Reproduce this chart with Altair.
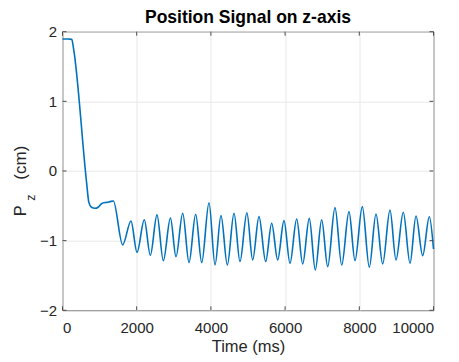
import altair as alt
import pandas as pd

# Position signal (time in ms, position in cm)
time_ms = [0, 150, 250, 300, 650, 710, 780, 876, 960, 1050, 1110, 1200, 1280, 1370,
           1622, 1846, 2008, 2205, 2367, 2547, 2717, 2910, 3059, 3240, 3410, 3590,
           3752, 3949, 4111, 4272, 4443, 4623, 4784, 4970, 5126, 5296, 5477, 5638,
           5800, 5970, 6132, 6312, 6474, 6652, 6814, 6986, 7148, 7345, 7526, 7722,
           7884, 8081, 8270, 8450, 8630, 8827, 8989, 9186, 9367, 9528, 9709, 9887,
           10000]
pz_cm = [1.895, 1.895, 1.89, 1.75, -0.17, -0.45, -0.52, -0.535, -0.52, -0.47, -0.455,
         -0.45, -0.44, -0.43,
         -1.06, -0.717, -1.167, -0.70, -1.21, -0.63, -1.287, -0.675, -1.23, -0.607,
         -1.315, -0.62, -1.315, -0.455, -1.349, -0.64, -1.35, -0.607, -1.30, -0.60,
         -1.277, -0.655, -1.30, -0.75, -1.277, -0.713, -1.325, -0.689, -1.334, -0.68,
         -1.42, -0.70, -1.373, -0.526, -1.349, -0.584, -1.287, -0.512, -1.38, -0.617,
         -1.334, -0.56, -1.277, -0.593, -1.325, -0.646, -1.215, -0.656, -1.12]

x_ticks = [0, 2000, 4000, 6000, 8000, 10000]
y_ticks = [-2, -1, 0, 1, 2]

title_text = "Position Signal on z-axis"
x_title = "Time (ms)"
y_title_main = "P"
y_title_sub = "z"
y_title_unit = "(cm)"

FONT = "Liberation Sans, Arial, Helvetica, sans-serif"
TXT = "#262626"
AX = "#4a4a4a"
W, H = 371, 278.6

df = pd.DataFrame({"t": time_ms, "v": pz_cm})
xt = pd.DataFrame({"t": x_ticks})
yt = pd.DataFrame({"v": y_ticks})

xs = alt.Scale(domain=[0, 10000], nice=False)
ys = alt.Scale(domain=[-2, 2], nice=False)

line = alt.Chart(df).mark_line(color="#0072BD", strokeWidth=1.6, interpolate="monotone").encode(
    x=alt.X("t:Q", scale=xs, axis=alt.Axis(values=x_ticks, title=x_title, grid=True,
                                            ticks=False, tickSize=0, domain=False,
                                            labelPadding=10, titlePadding=3,
                                            format="d")),
    y=alt.Y("v:Q", scale=ys, axis=alt.Axis(values=y_ticks, title=None, grid=True,
                                            ticks=False, tickSize=0, domain=False,
                                            labelPadding=6, format="d")),
)

xtick_bottom = alt.Chart(xt).mark_rule(color=AX, strokeWidth=1).encode(
    x="t:Q", y=alt.value(H), y2=alt.value(H - 4))
xtick_top = alt.Chart(xt).mark_rule(color=AX, strokeWidth=1).encode(
    x="t:Q", y=alt.value(0), y2=alt.value(4))
ytick_left = alt.Chart(yt).mark_rule(color=AX, strokeWidth=1).encode(
    y="v:Q", x=alt.value(0), x2=alt.value(4))
ytick_right = alt.Chart(yt).mark_rule(color=AX, strokeWidth=1).encode(
    y="v:Q", x=alt.value(W), x2=alt.value(W - 4))

ylab_p = alt.Chart(pd.DataFrame({"s": [y_title_main]})).mark_text(
    angle=270, font=FONT, fontSize=16.5, color=TXT, align="center", baseline="middle"
).encode(text="s:N", x=alt.value(-42), y=alt.value(179))
ylab_z = alt.Chart(pd.DataFrame({"s": [y_title_sub]})).mark_text(
    angle=270, font=FONT, fontSize=12.5, color=TXT, align="center", baseline="middle"
).encode(text="s:N", x=alt.value(-31.5), y=alt.value(166))
ylab_u = alt.Chart(pd.DataFrame({"s": [y_title_unit]})).mark_text(
    angle=270, font=FONT, fontSize=17, color=TXT, align="center", baseline="middle"
).encode(text="s:N", x=alt.value(-42), y=alt.value(131))

title_mark = alt.Chart(pd.DataFrame({"s": [title_text]})).mark_text(
    font=FONT, fontSize=17.5, fontWeight="bold", color="#000000",
    align="center", baseline="alphabetic"
).encode(text="s:N", x=alt.value(W / 2), y=alt.value(-8.4))

chart = alt.layer(
    line, xtick_bottom, xtick_top, ytick_left, ytick_right, ylab_p, ylab_z, ylab_u,
    title_mark
).properties(
    width=W, height=H,
    background="white",
    autosize=alt.AutoSizeParams(type="none"),
    padding={"left": 54.5, "top": 23.7, "right": 15, "bottom": 44.5},
).configure_view(
    stroke=AX, strokeWidth=1
).configure_axis(
    labelFont=FONT, titleFont=FONT, labelFontSize=15, titleFontSize=16.5,
    labelColor=TXT, titleColor=TXT, titleFontWeight="normal",
    gridColor="#e8e8e8", gridWidth=1,
)

chart.save("out.html", embed_options={"renderer": "svg", "actions": False})
